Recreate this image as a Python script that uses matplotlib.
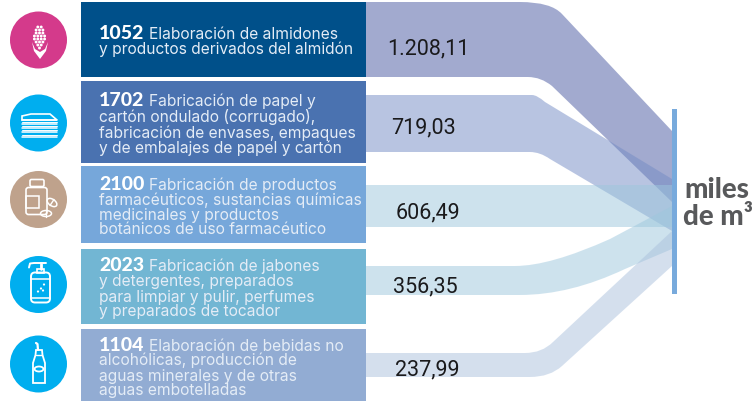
# -*- coding=utf8 =*-
import matplotlib
matplotlib.use("Agg")
import matplotlib.pyplot as plt
from matplotlib.path import Path
from matplotlib.patches import PathPatch, Circle, Rectangle, FancyBboxPatch, Ellipse, Polygon

# datos
codigos = ["1052", "1702", "2100", "2023", "1104"]
primeras = ["Elaboración de almidones", "Fabricación de papel y",
            "Fabricación de productos", "Fabricación de jabones",
            "Elaboración de bebidas no"]
resto = [
    ["y productos derivados del almidón"],
    ["cartón ondulado (corrugado),", "fabricación de envases, empaques", "y de embalajes de papel y cartón"],
    ["farmacéuticos, sustancias químicas", "medicinales y productos", "botánicos de uso farmacéutico"],
    ["y detergentes, preparados", "para limpiar y pulir, perfumes", "y preparados de tocador"],
    ["alcohólicas, producción de", "aguas minerales y de otras", "aguas embotelladas"],
]
valores = ["1.208,11", "719,03", "606,49", "356,35", "237,99"]
unidad = ["miles", "de m³"]

# layout en pixeles de la imagen
cajas_y = [(3, 78), (82, 164), (167, 244), (250, 325), (330, 402)]
cajas_color = ["#00508A", "#4A72B0", "#76A7DA", "#72B6D3", "#92ACD3"]
lineas_y = [[39, 54], [106, 122, 138, 153], [190, 205, 220, 234], [271, 286, 302, 316], [351, 365, 381, 395]]
valores_y = [54.5, 133, 218, 292, 375]
valores_x = [428, 423, 428, 425.5, 427]
circulos_y = [41, 124, 200.5, 285.5, 365]
circulos_color = ["#D43A8B", "#00AEEF", "#BFA28C", "#00AEEF", "#00AEEF"]
flujos_color = ["#4757A0", "#738BC5", "#9DC7DD", "#9DC7DD", "#ABC1DD"]

X0, X1 = 366, 672
FUENTE = "Lato"
FUENTE_TXT = "Inter"

fig = plt.figure(figsize=(7.55, 4.02), dpi=100)
ax = fig.add_axes([0, 0, 1, 1])
ax.set_xlim(0, 755)
ax.set_ylim(402, 0)
ax.axis("off")


def flujo(sup, inf, color):
    # cada borde: y inicial, inicio curva, control, fin curva, y final
    y0, xa, ctrl, fin, y1 = sup
    v = [(X0, y0), (xa, y0), ctrl, fin, (X1, y1)]
    c = [Path.MOVETO, Path.LINETO, Path.CURVE3, Path.CURVE3, Path.LINETO]
    y0, xa, ctrl, fin, y1 = inf
    v += [(X1, y1), fin, ctrl, (xa, y0), (X0, y0), (X0, y0)]
    c += [Path.LINETO, Path.LINETO, Path.CURVE3, Path.CURVE3, Path.LINETO, Path.CLOSEPOLY]
    ax.add_patch(PathPatch(Path(v, c), fc=color, ec="none", alpha=0.5, zorder=2))


flujo((3, 520, (551, 3), (562, 15), 132), (78, 528, (541, 78), (552, 87), 203), flujos_color[0])
flujo((96, 532, (537, 96), (545, 103), 180), (153, 530, (540, 153), (550, 160), 232), flujos_color[1])
flujo((186, 500, (560, 186), (620, 186), 186), (228, 500, (560, 228), (620, 228), 228), flujos_color[2])
flujo((267, 515, (550, 267), (610, 240), 207), (296, 520, (570, 296), (625, 270), 250), flujos_color[3])
flujo((354, 525, (542, 354), (553, 343), 232), (378, 530, (550, 378), (562, 367), 267), flujos_color[4])

# barra derecha
ax.add_patch(Rectangle((672, 110), 5, 185, fc="#78AADC", ec="none", zorder=3))

# cajas y texto
fig.canvas.draw()
r = fig.canvas.get_renderer()
for i, cod in enumerate(codigos):
    y0, y1 = cajas_y[i]
    ax.add_patch(Rectangle((81, y0), 285, y1 - y0, fc=cajas_color[i], ec="none", zorder=3))
    t = ax.text(99, lineas_y[i][0], cod, family=FUENTE, weight="black", fontsize=14,
                color="white", va="baseline", zorder=4)
    ancho = t.get_window_extent(r).width
    ax.text(99 + ancho + 5, lineas_y[i][0], primeras[i], family=FUENTE_TXT, fontsize=11.2,
            color="#E4ECF6", va="baseline", zorder=4)
    for y, linea_txt in zip(lineas_y[i][1:], resto[i]):
        ax.text(99, y, linea_txt, family=FUENTE_TXT, fontsize=11.2, color="#E4ECF6", va="baseline", zorder=4)
    ax.text(valores_x[i], valores_y[i], valores[i], family="Roboto", fontsize=15.5,
            color="#1A1A1C", ha="center", va="baseline", zorder=5)
    ax.add_patch(Circle((38.5, circulos_y[i]), 28.5, fc=circulos_color[i], ec="none", zorder=3))

ax.text(716.5, 198, unidad[0], family=FUENTE, weight="black", fontsize=20, color="#58595B",
        ha="center", va="baseline", zorder=5)
ax.text(718, 225, unidad[1], family=FUENTE, weight="black", fontsize=20, color="#58595B",
        ha="center", va="baseline", zorder=5)

# iconos
BL = "white"


def linea(xs, ys, lw=1.2):
    ax.plot(xs, ys, color=BL, lw=lw, solid_capstyle="round", zorder=6)


def caja_r(x, y, w, h, rad=2, lw=1.2):
    ax.add_patch(FancyBboxPatch((x + rad, y + rad), w - 2 * rad, h - 2 * rad,
                                boxstyle="round,pad=%f" % rad, fc="none", ec=BL, lw=lw, zorder=6))


# maiz
cy = circulos_y[0]
for fila, (dy, n) in enumerate([(-13, 2), (-10, 3), (-7, 3), (-4, 4), (-1, 4), (2, 3), (5, 2), (8, 1)]):
    for k in range(n):
        ax.add_patch(Circle((39.5 + (k - (n - 1) / 2) * 3.4, cy + dy), 1.45, fc=BL, ec="none", zorder=6))
ax.add_patch(Polygon([(32, cy + 2), (34, cy + 11), (40, cy + 19), (46, cy + 11), (48, cy + 2),
                      (45, cy + 9), (40, cy + 12), (35, cy + 9)], fc=BL, ec="none", zorder=6))

# papel
cy = circulos_y[1]
ax.add_patch(Polygon([(22, cy - 7), (31, cy - 9), (50, cy - 9), (57, cy - 3), (22, cy - 3)],
                     fc="none", ec=BL, lw=1.2, zorder=6))
for dy in [-3, 1, 5, 9, 14]:
    linea([22, 57], [cy + dy, cy + dy], 1.1)
for dy in [-1, 3, 7, 11.5]:
    linea([22, 57], [cy + dy, cy + dy], 0.7)

# frasco y pastillas
cy = circulos_y[2]
caja_r(26, cy - 12, 21, 27, 2.5)
caja_r(30, cy - 20, 14, 7, 1.5)
ax.add_patch(Rectangle((26, cy - 4), 13, 12, fc="none", ec=BL, lw=1.1, zorder=6))
ax.add_patch(Ellipse((52, cy + 3), 11, 6.5, angle=35, fc="none", ec=BL, lw=1.1, zorder=6))
linea([50, 54], [cy + 6, cy + 0], 1.0)
ax.add_patch(Ellipse((46, cy + 14), 11, 6, fc="none", ec=BL, lw=1.1, zorder=6))
linea([46, 46], [cy + 11, cy + 17], 1.0)

# jabon
cy = circulos_y[3]
caja_r(31, cy - 12, 19, 30, 4, 1.4)
linea([31, 50], [cy - 6, cy - 6], 1.1)
linea([31, 50], [cy + 13, cy + 13], 1.1)
ax.add_patch(Rectangle((37, cy - 16), 7, 4, fc="none", ec=BL, lw=1.2, zorder=6))
linea([40.5, 40.5], [cy - 21, cy - 16], 2)
linea([29, 30, 34, 46], [cy - 17, cy - 21, cy - 21.5, cy - 21.5], 1.4)
for dx, dy in [(44, 0), (41, 4), (38, 7), (43, 6)]:
    ax.add_patch(Circle((dx, cy + dy), 1.1, fc=BL, ec="none", zorder=6))

# botella
cy = circulos_y[4]
v = [(33, cy + 19), (33, cy - 1), (35.5, cy - 9), (36, cy - 14), (42, cy - 14), (42.5, cy - 9),
     (45, cy - 1), (45, cy + 19)]
ax.add_patch(Polygon(v, closed=True, fc="none", ec=BL, lw=1.3, zorder=6))
linea([36, 42], [cy - 9, cy - 9], 1.0)
linea([38, 37.5, 36], [cy - 14, cy - 20, cy - 21], 1.6)
ax.add_patch(Ellipse((39, cy + 5), 9, 5, fc="none", ec=BL, lw=1.3, zorder=6))

fig.savefig("out.png", dpi=100)
